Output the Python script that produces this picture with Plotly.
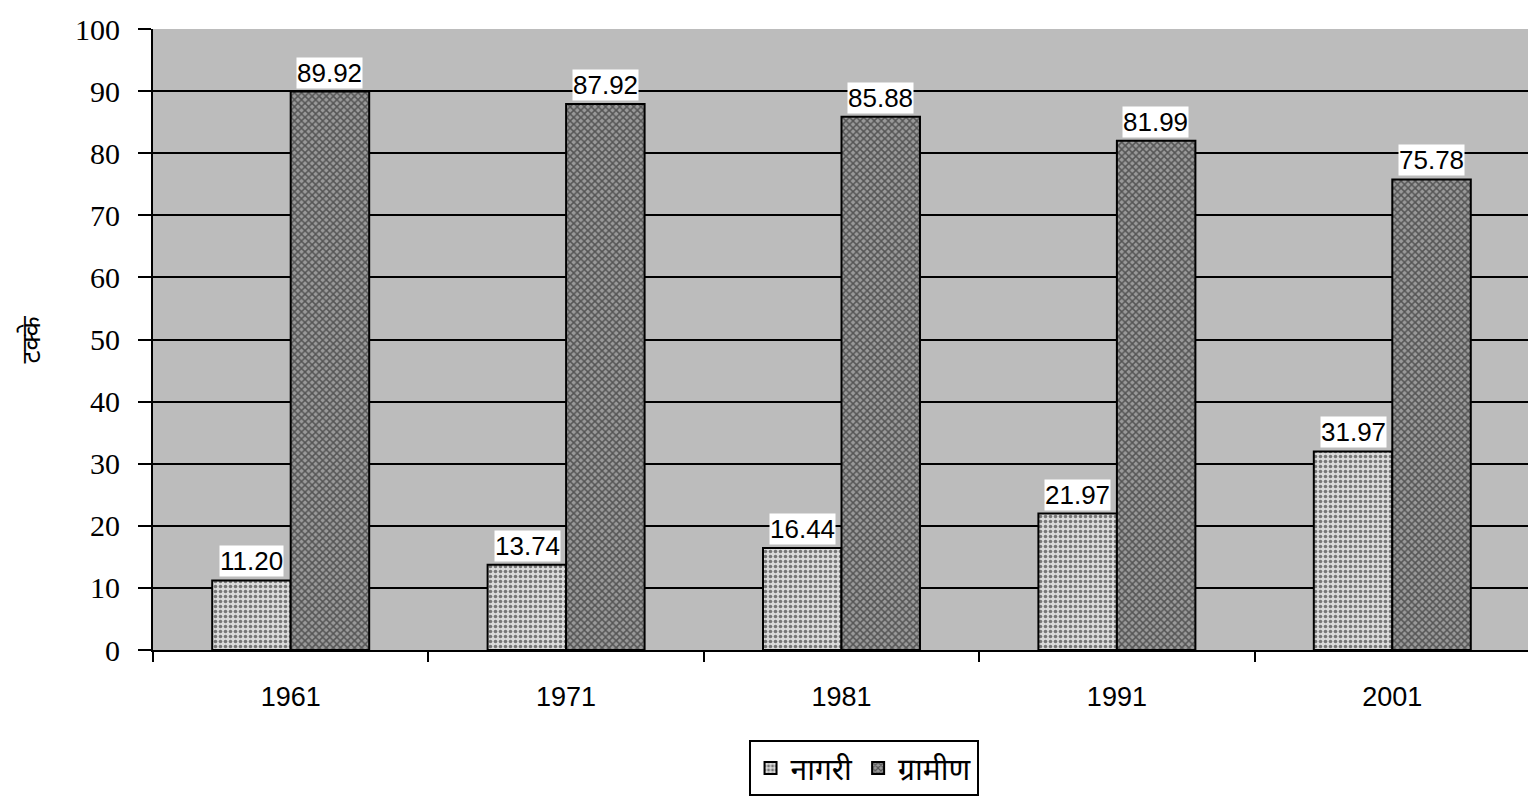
import plotly.graph_objects as go

years = ["1961", "1971", "1981", "1991", "2001"]
urban = [11.20, 13.74, 16.44, 21.97, 31.97]
rural = [89.92, 87.92, 85.88, 81.99, 75.78]
urban_labels = ["11.20", "13.74", "16.44", "21.97", "31.97"]
rural_labels = ["89.92", "87.92", "85.88", "81.99", "75.78"]
series_names = ["नागरी", "ग्रामीण"]
y_title = "टक्के"

fig = go.Figure()
fig.add_trace(go.Bar(
    x=years, y=urban, name=series_names[0],
    marker=dict(color="#c0c0c0", line=dict(color="black", width=2),
                pattern=dict(shape=".", fgcolor="#111111", bgcolor="#dadada", size=5, solidity=0.4)),
))
fig.add_trace(go.Bar(
    x=years, y=rural, name=series_names[1],
    marker=dict(color="#707070", line=dict(color="black", width=2),
                pattern=dict(shape="x", fgcolor="#111111", bgcolor="#999999", size=5, solidity=0.5)),
))

annotations = []
for i, yr in enumerate(years):
    for vals, labs, shift in ((urban, urban_labels, -39), (rural, rural_labels, 39)):
        annotations.append(dict(
            x=i, y=vals[i], xref="x", yref="y", text=labs[i], showarrow=False,
            xshift=shift, yanchor="bottom", yshift=3, bgcolor="white",
            font=dict(family="Liberation Sans, Arial", size=26, color="black"),
            borderpad=0,
        ))
annotations.append(dict(
    x=0, y=0.5, xref="paper", yref="paper", text=y_title, showarrow=False,
    xshift=-124, textangle=-90, xanchor="center", yanchor="middle",
    font=dict(family="Noto Sans, Liberation Sans", size=26, color="black"),
))

fig.update_layout(
    width=1536, height=802,
    paper_bgcolor="white", plot_bgcolor="#bcbcbc",
    barmode="group", bargap=0.43, bargroupgap=0,
    margin=dict(l=145, r=14, t=21, b=160),
    showlegend=True,
    legend=dict(orientation="h", x=0.516, xanchor="center", y=-0.145, yanchor="top",
                bordercolor="black", borderwidth=2, bgcolor="white",
                font=dict(family="Noto Sans, Liberation Sans", size=30, color="black"),
                itemwidth=30, tracegroupgap=0),
    annotations=annotations,
    font=dict(family="Liberation Sans, Arial", color="black"),
)
fig.update_yaxes(
    range=[0, 100], dtick=10, showgrid=True, gridcolor="black", gridwidth=2,
    showline=True, linecolor="black", linewidth=2,
    ticks="outside", ticklen=13, tickcolor="black", tickwidth=2,
    tickfont=dict(family="Liberation Serif, Times New Roman", size=30, color="black"),
    ticklabelstandoff=12, automargin=False, ticklabeloverflow="allow",
    zeroline=False,
)
fig.update_xaxes(
    type="category", range=[-0.5, 4.5],
    showline=True, linecolor="black", linewidth=2,
    ticks="outside", tickson="boundaries", ticklen=10, tickcolor="black", tickwidth=2,
    tickfont=dict(family="Liberation Sans, Arial", size=27, color="black"),
    ticklabelstandoff=22, automargin=False,
)
fig.write_html("out.html")
